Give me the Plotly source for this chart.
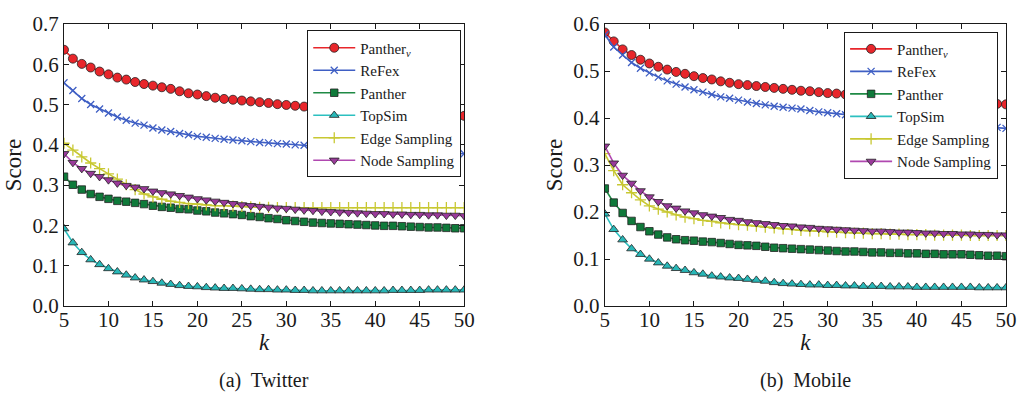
import plotly.graph_objects as go

# k values shared by both panels
k = list(range(5, 51))

# ---- Twitter ----
tw_panther_v = [0.636, 0.614, 0.601, 0.592, 0.582, 0.575, 0.567, 0.562, 0.556, 0.551,
                0.547, 0.543, 0.539, 0.533, 0.528, 0.525, 0.521, 0.517, 0.514, 0.512,
                0.510, 0.508, 0.506, 0.504, 0.501, 0.499, 0.497, 0.495, 0.493, 0.491,
                0.489, 0.488, 0.486, 0.485, 0.484, 0.483, 0.482, 0.481, 0.480, 0.479,
                0.478, 0.477, 0.476, 0.474, 0.473, 0.472]
tw_refex = [0.554, 0.535, 0.515, 0.500, 0.489, 0.479, 0.469, 0.461, 0.454, 0.449,
            0.442, 0.437, 0.433, 0.428, 0.425, 0.421, 0.419, 0.416, 0.414, 0.412,
            0.410, 0.408, 0.406, 0.405, 0.403, 0.402, 0.400, 0.399, 0.397, 0.396,
            0.394, 0.393, 0.392, 0.391, 0.389, 0.388, 0.387, 0.386, 0.385, 0.384,
            0.383, 0.382, 0.381, 0.380, 0.379, 0.378]
tw_panther = [0.321, 0.301, 0.289, 0.278, 0.271, 0.266, 0.261, 0.259, 0.256, 0.253,
              0.249, 0.246, 0.244, 0.241, 0.240, 0.237, 0.235, 0.232, 0.230, 0.228,
              0.226, 0.223, 0.221, 0.218, 0.216, 0.213, 0.211, 0.209, 0.207, 0.206,
              0.205, 0.204, 0.203, 0.202, 0.201, 0.200, 0.199, 0.199, 0.198, 0.197,
              0.196, 0.195, 0.195, 0.194, 0.193, 0.193]
tw_topsim = [0.192, 0.157, 0.133, 0.115, 0.103, 0.093, 0.085, 0.077, 0.070, 0.065,
             0.061, 0.057, 0.054, 0.051, 0.049, 0.048, 0.046, 0.045, 0.044, 0.044,
             0.043, 0.042, 0.041, 0.041, 0.040, 0.040, 0.039, 0.039, 0.038, 0.038,
             0.038, 0.038, 0.038, 0.038, 0.038, 0.038, 0.038, 0.039, 0.039, 0.039,
             0.039, 0.040, 0.040, 0.040, 0.040, 0.040]
tw_edge = [0.404, 0.387, 0.370, 0.355, 0.341, 0.328, 0.315, 0.301, 0.289, 0.278,
           0.271, 0.265, 0.260, 0.257, 0.254, 0.253, 0.251, 0.249, 0.249, 0.248,
           0.247, 0.246, 0.245, 0.245, 0.244, 0.244, 0.244, 0.244, 0.244, 0.244,
           0.244, 0.244, 0.244, 0.244, 0.244, 0.244, 0.244, 0.244, 0.244, 0.244,
           0.244, 0.244, 0.244, 0.244, 0.244, 0.244]
tw_node = [0.378, 0.356, 0.341, 0.329, 0.321, 0.313, 0.305, 0.299, 0.295, 0.291,
           0.285, 0.281, 0.278, 0.274, 0.270, 0.266, 0.263, 0.260, 0.257, 0.254,
           0.251, 0.249, 0.247, 0.245, 0.243, 0.242, 0.240, 0.238, 0.237, 0.235,
           0.234, 0.233, 0.232, 0.231, 0.230, 0.229, 0.229, 0.228, 0.228, 0.227,
           0.227, 0.226, 0.226, 0.225, 0.225, 0.224]

# ---- Mobile ----
mb_panther_v = [0.582, 0.563, 0.546, 0.534, 0.524, 0.516, 0.509, 0.503, 0.498, 0.494,
                0.489, 0.485, 0.482, 0.478, 0.475, 0.472, 0.470, 0.468, 0.466, 0.464,
                0.462, 0.460, 0.458, 0.457, 0.455, 0.453, 0.452, 0.450, 0.449, 0.447,
                0.446, 0.445, 0.443, 0.442, 0.441, 0.440, 0.439, 0.438, 0.436, 0.435,
                0.434, 0.433, 0.432, 0.431, 0.430, 0.429]
mb_refex = [0.577, 0.551, 0.534, 0.518, 0.506, 0.496, 0.487, 0.479, 0.472, 0.466,
            0.460, 0.455, 0.450, 0.445, 0.442, 0.438, 0.434, 0.431, 0.428, 0.425,
            0.423, 0.421, 0.419, 0.416, 0.413, 0.411, 0.409, 0.407, 0.405, 0.403,
            0.401, 0.399, 0.397, 0.396, 0.394, 0.393, 0.391, 0.390, 0.388, 0.387,
            0.385, 0.384, 0.382, 0.381, 0.380, 0.378]
mb_panther = [0.250, 0.220, 0.198, 0.181, 0.168, 0.159, 0.152, 0.146, 0.142, 0.140,
              0.139, 0.137, 0.136, 0.134, 0.132, 0.130, 0.129, 0.128, 0.126, 0.124,
              0.123, 0.122, 0.121, 0.120, 0.119, 0.118, 0.117, 0.116, 0.116, 0.115,
              0.114, 0.114, 0.113, 0.113, 0.112, 0.112, 0.111, 0.111, 0.110, 0.110,
              0.110, 0.109, 0.108, 0.107, 0.107, 0.106]
mb_topsim = [0.196, 0.163, 0.141, 0.122, 0.110, 0.100, 0.092, 0.085, 0.080, 0.076,
             0.071, 0.068, 0.064, 0.062, 0.060, 0.059, 0.057, 0.055, 0.053, 0.050,
             0.048, 0.047, 0.046, 0.045, 0.045, 0.044, 0.044, 0.043, 0.043, 0.042,
             0.042, 0.042, 0.041, 0.041, 0.041, 0.040, 0.040, 0.040, 0.040, 0.040,
             0.040, 0.040, 0.039, 0.039, 0.039, 0.039]
mb_edge = [0.324, 0.288, 0.258, 0.241, 0.226, 0.213, 0.206, 0.200, 0.194, 0.189,
           0.186, 0.182, 0.180, 0.177, 0.175, 0.173, 0.172, 0.170, 0.168, 0.166,
           0.164, 0.163, 0.161, 0.160, 0.159, 0.158, 0.157, 0.156, 0.155, 0.155,
           0.154, 0.154, 0.153, 0.153, 0.152, 0.152, 0.152, 0.151, 0.151, 0.151,
           0.151, 0.150, 0.150, 0.150, 0.150, 0.150]
mb_node = [0.340, 0.304, 0.278, 0.261, 0.245, 0.232, 0.222, 0.213, 0.208, 0.202,
           0.198, 0.194, 0.191, 0.188, 0.184, 0.182, 0.179, 0.177, 0.175, 0.173,
           0.171, 0.170, 0.168, 0.167, 0.165, 0.164, 0.163, 0.162, 0.161, 0.160,
           0.159, 0.159, 0.158, 0.157, 0.157, 0.156, 0.155, 0.155, 0.154, 0.154,
           0.153, 0.153, 0.152, 0.152, 0.151, 0.151]

series_names = ["Panther<sub><i>v</i></sub>", "ReFex", "Panther", "TopSim",
                "Edge Sampling", "Node Sampling"]
panels = [
    ("x", "y", "legend", [tw_panther_v, tw_refex, tw_panther, tw_topsim, tw_edge, tw_node]),
    ("x2", "y2", "legend2", [mb_panther_v, mb_refex, mb_panther, mb_topsim, mb_edge, mb_node]),
]

# line colour, marker symbol, marker fill, marker edge colour, marker size
styles = [
    ("#e8262b", "circle", "#e8262b", "#222222", 9),
    ("#3f5fc4", "x-thin", "#3f5fc4", "#3f5fc4", 7),
    ("#1f8a45", "square", "#0f7a3a", "#222222", 7.5),
    ("#2cc0c0", "triangle-up", "#28b8b8", "#222222", 8.5),
    ("#c8c832", "cross-thin", "#c8c832", "#c8c832", 8),
    ("#b048b0", "triangle-down", "#9a3a9a", "#222222", 8.5),
]

FONT = '"Liberation Serif", "Times New Roman", Times, serif'
INK = "#1a1a1a"
fig = go.Figure()
for xa, ya, lg, ys in panels:
    for name, vals, (lc, sym, fill, edge, sz) in zip(series_names, ys, styles):
        thin = sym.endswith("-thin")
        fig.add_trace(go.Scatter(
            x=k, y=vals, name=name, mode="lines+markers",
            xaxis=xa, yaxis=ya, legend=lg,
            line=dict(color=lc, width=1.6),
            marker=dict(symbol=sym, size=sz, color=fill,
                        line=dict(color=edge, width=1.3 if thin else 0.8)),
        ))

axis_common = dict(
    showline=True, linecolor=INK, linewidth=1.2, mirror="ticks",
    ticks="inside", ticklen=5, tickwidth=1, tickcolor=INK,
    showgrid=False, zeroline=False,
    tickfont=dict(family=FONT, size=21, color=INK),
)
xa_common = dict(axis_common, range=[5, 50], tickmode="array",
                 tickvals=list(range(5, 51, 5)), ticklabelstandoff=-5,
                 title=dict(text="<i>k</i>", font=dict(family=FONT, size=23, color=INK),
                            standoff=2))

left_dom = [0.0, 0.4248]
right_dom = [0.5741, 1.0]

legend_common = dict(
    bgcolor="white", bordercolor=INK, borderwidth=1,
    font=dict(family=FONT, size=15, color=INK),
    yanchor="top", xanchor="right", tracegroupgap=0, itemwidth=42,
)

ytitle_font = dict(family=FONT, size=23, color=INK)

fig.update_layout(
    width=1029, height=399,
    margin=dict(l=62, r=18, t=17, b=93),
    paper_bgcolor="white", plot_bgcolor="white",
    font=dict(family=FONT, color=INK),
    xaxis=dict(xa_common, domain=left_dom, anchor="y"),
    yaxis=dict(axis_common, domain=[0, 1], anchor="x", range=[0, 0.7], dtick=0.1,
               tickformat=".1f",
               title=dict(text="Score", font=ytitle_font, standoff=4)),
    xaxis2=dict(xa_common, domain=right_dom, anchor="y2"),
    yaxis2=dict(axis_common, domain=[0, 1], anchor="x2", range=[0, 0.6], dtick=0.1,
                tickformat=".1f",
                title=dict(text="Score", font=ytitle_font, standoff=4)),
    legend=dict(legend_common, x=0.4217, y=0.977),
    legend2=dict(legend_common, x=0.9916, y=0.973),
    annotations=[
        dict(text="(a)  Twitter", xref="paper", yref="paper",
             x=sum(left_dom) / 2, y=-0.265, xanchor="center", yanchor="middle",
             showarrow=False, font=dict(family=FONT, size=20, color=INK)),
        dict(text="(b)  Mobile", xref="paper", yref="paper",
             x=sum(right_dom) / 2, y=-0.265, xanchor="center", yanchor="middle",
             showarrow=False, font=dict(family=FONT, size=20, color=INK)),
    ],
)

fig.write_html("out.html")
